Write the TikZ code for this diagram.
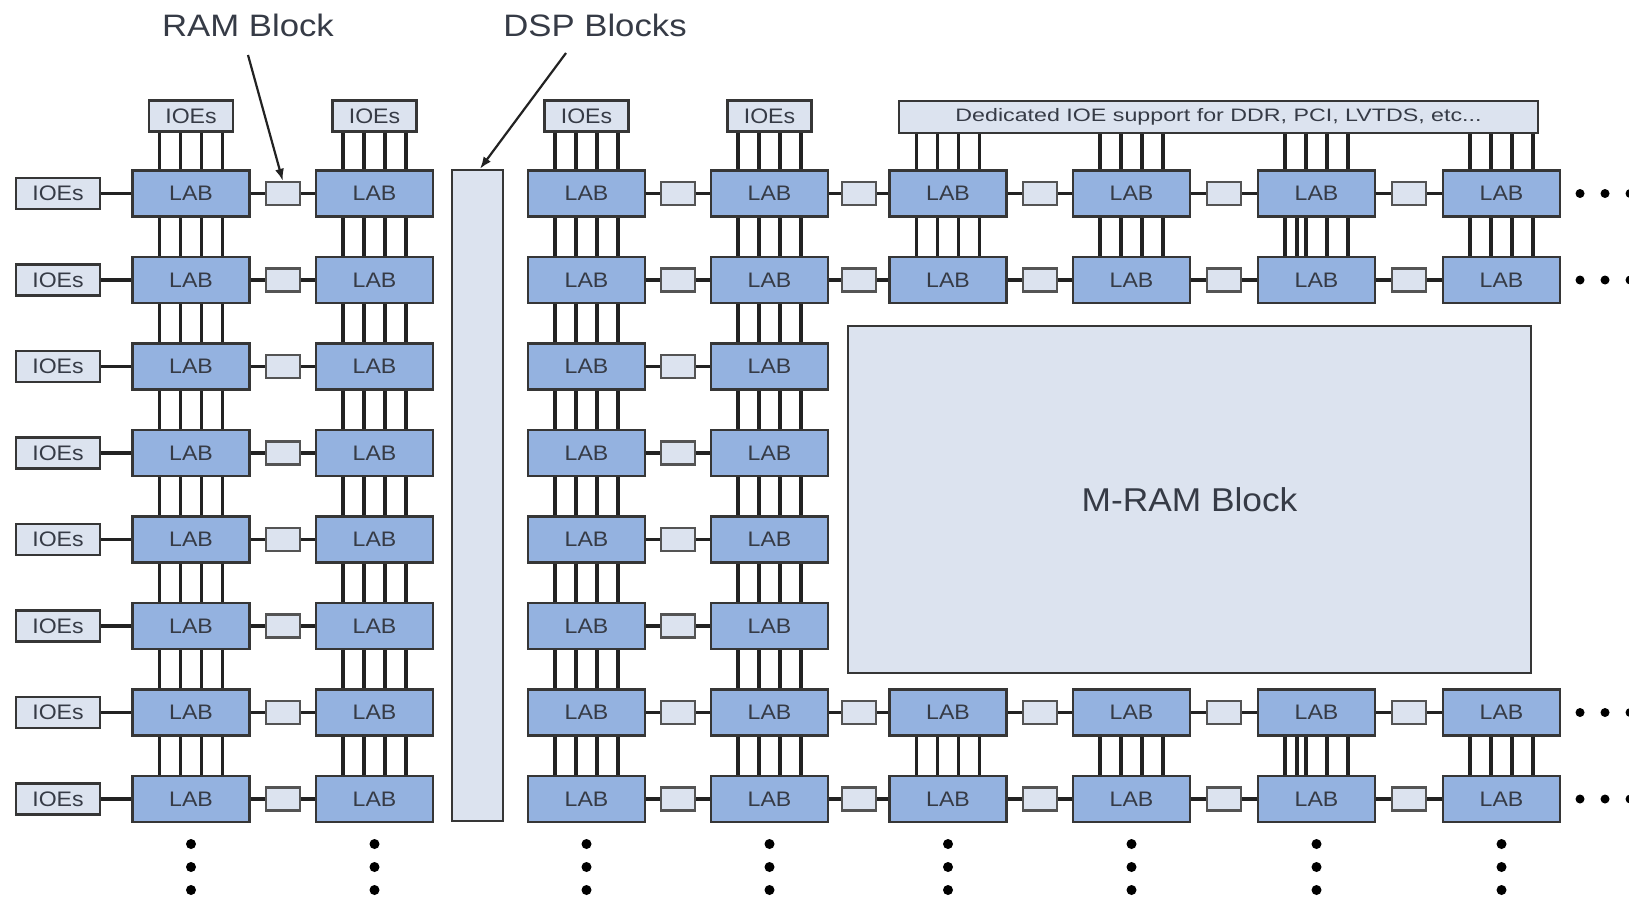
\documentclass[tikz,border=0pt]{standalone}
\usepackage{fontspec}
\setmainfont{Liberation Sans}
\usetikzlibrary{arrows.meta,calc}
\definecolor{labblue}{HTML}{94B2E0}
\definecolor{ioefill}{HTML}{DCE3EF}
\definecolor{edgecol}{HTML}{363636}
\definecolor{wirecol}{HTML}{222222}
\definecolor{txtcol}{HTML}{363B46}
\newcommand{\sx}[2]{\scalebox{#1}[1]{#2}}
\begin{document}
\begin{tikzpicture}[x=1pt,y=-1pt,
 lab/.style={draw=edgecol,line width=2.4pt,fill=labblue,minimum width=117pt,minimum height=46pt,inner sep=0pt,font=\fontsize{21}{21}\selectfont,text=txtcol},
 ioe/.style={draw=edgecol,line width=2.4pt,fill=ioefill,minimum width=84pt,minimum height=31pt,inner sep=0pt,font=\fontsize{21}{21}\selectfont,text=txtcol},
 ramblk/.style={draw=edgecol!85,line width=2.4pt,fill=ioefill,minimum width=34pt,minimum height=23pt,inner sep=0pt},
 bigblk/.style={draw=edgecol,line width=2.4pt,fill=ioefill,inner sep=0pt,text=txtcol},
 wire/.style={draw=wirecol,line width=3.2pt},
 titletext/.style={font=\fontsize{31}{31}\selectfont,text=txtcol},
 pointer/.style={draw=wirecol,line width=2.2pt,-{Latex[length=12pt,width=9pt]}}
]
\useasboundingbox (0,0) rectangle (1629,898);
\clip (0,0) rectangle (1629,898);
\fill[white] (0,0) rectangle (1629,898);

% titles
\node[titletext] (ramt) at (248,25) {\sx{1.12}{RAM Block}};
\node[titletext] (dspt) at (595,25) {\sx{1.12}{DSP Blocks}};

% big blocks
\node[bigblk,minimum width=51pt,minimum height=651pt] (DSP) at (477.5,495.5) {};
\node[bigblk,minimum width=683pt,minimum height=347pt,font=\fontsize{33}{33}\selectfont] (MRAM) at (1189.5,499.5) {\sx{1.07}{M-RAM Block}};
\node[bigblk,minimum width=639pt,minimum height=32pt,font=\fontsize{18}{18}\selectfont] (D) at (1218.5,117) {\sx{1.29}{Dedicated IOE support for DDR, PCI, LVTDS, etc...}};

% LABs
\foreach \c/\x in {1/191,2/374.5,3/586.5,4/769.5}{
  \foreach \r in {1,...,8}{
    \pgfmathsetmacro\y{193.5+86.5*(\r-1)}
    \node[lab] (L-\c-\r) at (\x,\y) {\sx{1.1}{LAB}};
  }
  \node[ioe] (T-\c) at (\x,116) {\sx{1.1}{IOEs}};
}
\foreach \c/\x in {5/948,6/1131.5,7/1316.5,8/1501.5}{
  \foreach \r in {1,2,7,8}{
    \pgfmathsetmacro\y{193.5+86.5*(\r-1)}
    \node[lab] (L-\c-\r) at (\x,\y) {\sx{1.1}{LAB}};
  }
}

% left IOEs
\foreach \r in {1,...,8}{
  \pgfmathsetmacro\y{193.5+86.5*(\r-1)}
  \node[ioe] (W-\r) at (58,\y) {\sx{1.1}{IOEs}};
  \draw[wire] (W-\r) -- (L-1-\r);
}

% RAM blocks between LABs
\foreach \a/\b in {1/2,3/4}{
  \foreach \r in {1,...,8}{
    \node[ramblk] (R-\a-\r) at ($(L-\a-\r.east)!0.5!(L-\b-\r.west)$) {};
    \draw[wire] (L-\a-\r) -- (R-\a-\r) -- (L-\b-\r);
  }
}
\foreach \a/\b in {4/5,5/6,6/7,7/8}{
  \foreach \r in {1,2,7,8}{
    \node[ramblk] (R-\a-\r) at ($(L-\a-\r.east)!0.5!(L-\b-\r.west)$) {};
    \draw[wire] (L-\a-\r) -- (R-\a-\r) -- (L-\b-\r);
  }
}

% vertical buses
\foreach \c in {1,...,4}{
  \foreach \d in {-31.5,-10.5,10.5,31.5}{
    \draw[wire] ([xshift=\d pt]T-\c.south) -- ([xshift=\d pt]L-\c-1.north);
    \foreach \r [evaluate=\r as \s using int(\r+1)] in {1,...,7}{
      \draw[wire] ([xshift=\d pt]L-\c-\r.south) -- ([xshift=\d pt]L-\c-\s.north);
    }
  }
}
\foreach \c in {5,...,8}{
  \foreach \d in {-31.5,-10.5,10.5,31.5}{
    \coordinate (tmp) at ([xshift=\d pt]L-\c-1.north);
    \draw[wire] (tmp |- D.south) -- (tmp);
    \draw[wire] ([xshift=\d pt]L-\c-1.south) -- ([xshift=\d pt]L-\c-2.north);
    \draw[wire] ([xshift=\d pt]L-\c-7.south) -- ([xshift=\d pt]L-\c-8.north);
  }
}
\draw[wire] ([xshift=-19.5pt]L-7-1.south) -- ([xshift=-19.5pt]L-7-2.north);
\draw[wire] ([xshift=-19.5pt]L-7-7.south) -- ([xshift=-19.5pt]L-7-8.north);

% pointers
\coordinate (ra) at (248,55);
\draw[pointer] (ra) -- (R-1-1.north);
\coordinate (da) at (566,53);
\draw[pointer] (da) -- ([xshift=2.5pt]DSP.north);

% continuation dots
\foreach \r in {1,2,7,8}{
  \pgfmathsetmacro\y{193.5+86.5*(\r-1)}
  \foreach \xx in {1580,1605,1630}{
    \fill (\xx,\y) circle (4.5pt);
  }
}
\foreach \x in {191,374.5,586.5,769.5,948,1131.5,1316.5,1501.5}{
  \foreach \yy in {844,867,890}{
    \fill (\x,\yy) circle (5pt);
  }
}
\end{tikzpicture}
\end{document}
